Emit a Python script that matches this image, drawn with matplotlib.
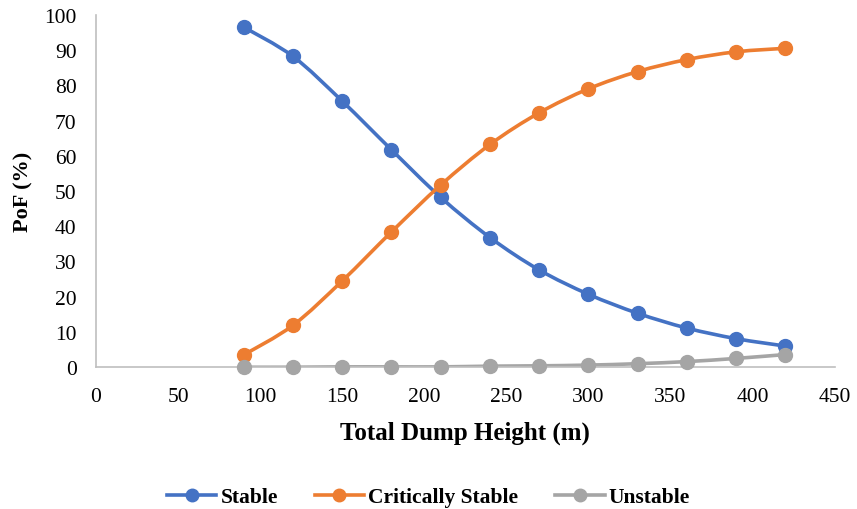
import numpy as np
import matplotlib
matplotlib.use("Agg")
import matplotlib.pyplot as plt
from matplotlib.path import Path
from matplotlib.patches import PathPatch
from matplotlib.lines import Line2D

heights = [90, 120, 150, 180, 210, 240, 270, 300, 330, 360, 390, 420]
stable = [96.5, 88.2, 75.5, 61.7, 48.2, 36.8, 27.6, 20.7, 15.3, 11.1, 8.1, 6.0]
critically_stable = [3.5, 11.9, 24.5, 38.4, 51.7, 63.2, 72.2, 79.0, 83.9, 87.3, 89.5, 90.5]
unstable = [0.0, 0.0, 0.1, 0.1, 0.1, 0.3, 0.4, 0.6, 1.0, 1.6, 2.5, 3.6]

x_ticks = list(range(0, 451, 50))
y_ticks = list(range(0, 101, 10))

series = [
    ("Stable", stable, "#4472C4"),
    ("Critically Stable", critically_stable, "#ED7D31"),
    ("Unstable", unstable, "#A5A5A5"),
]

plt.rcParams["font.family"] = ["Liberation Serif", "DejaVu Serif"]

fig = plt.figure(figsize=(8.57, 5.10), dpi=100)
ax = fig.add_axes([0.112, 0.278, 0.862, 0.691])


def smooth_path(xs, ys):
    """Catmull-Rom spline expressed as cubic Bezier segments."""
    xs = np.asarray(xs, float)
    ys = np.asarray(ys, float)
    pts = np.column_stack([xs, ys])
    n = len(pts)
    verts = [pts[0]]
    codes = [Path.MOVETO]
    for i in range(n - 1):
        p0 = pts[i - 1] if i > 0 else pts[i]
        p1 = pts[i]
        p2 = pts[i + 1]
        p3 = pts[i + 2] if i + 2 < n else pts[i + 1]
        c1 = p1 + (p2 - p0) / 6.0
        c2 = p2 - (p3 - p1) / 6.0
        verts += [c1, c2, p2]
        codes += [Path.CURVE4] * 3
    return Path(verts, codes)


handles = []
for name, vals, color in series:
    patch = PathPatch(smooth_path(heights, vals), facecolor="none",
                      edgecolor=color, lw=2.6, zorder=2, capstyle="round")
    ax.add_patch(patch)
    ax.plot(heights, vals, linestyle="none", marker="o", markersize=10,
            color=color, zorder=3, clip_on=False)
    handles.append(Line2D([], [], color=color, lw=2.6, marker="o",
                          markersize=9, label=name))

ax.set_xlim(0, 450)
ax.set_ylim(0, 100)
ax.set_xticks(x_ticks)
ax.set_yticks(y_ticks)
ax.tick_params(axis="both", length=0, labelsize=15.5)
ax.tick_params(axis="y", pad=14)
ax.tick_params(axis="x", pad=14)

for side in ["top", "right"]:
    ax.spines[side].set_visible(False)
for side in ["left", "bottom"]:
    ax.spines[side].set_color("#BFBFBF")
    ax.spines[side].set_linewidth(1.2)

ax.set_xlabel("Total Dump Height (m)", fontsize=18, fontweight="bold", labelpad=11)
ax.set_ylabel("PoF (%)", fontsize=16, fontweight="bold", labelpad=8)

fig.legend(handles=handles, loc="center", bbox_to_anchor=(0.5, 0.023),
           ncol=3, frameon=False, prop={"size": 15.5, "weight": "bold"},
           handlelength=2.3, handletextpad=0.2, columnspacing=1.7)

fig.savefig("out.png", dpi=100)
